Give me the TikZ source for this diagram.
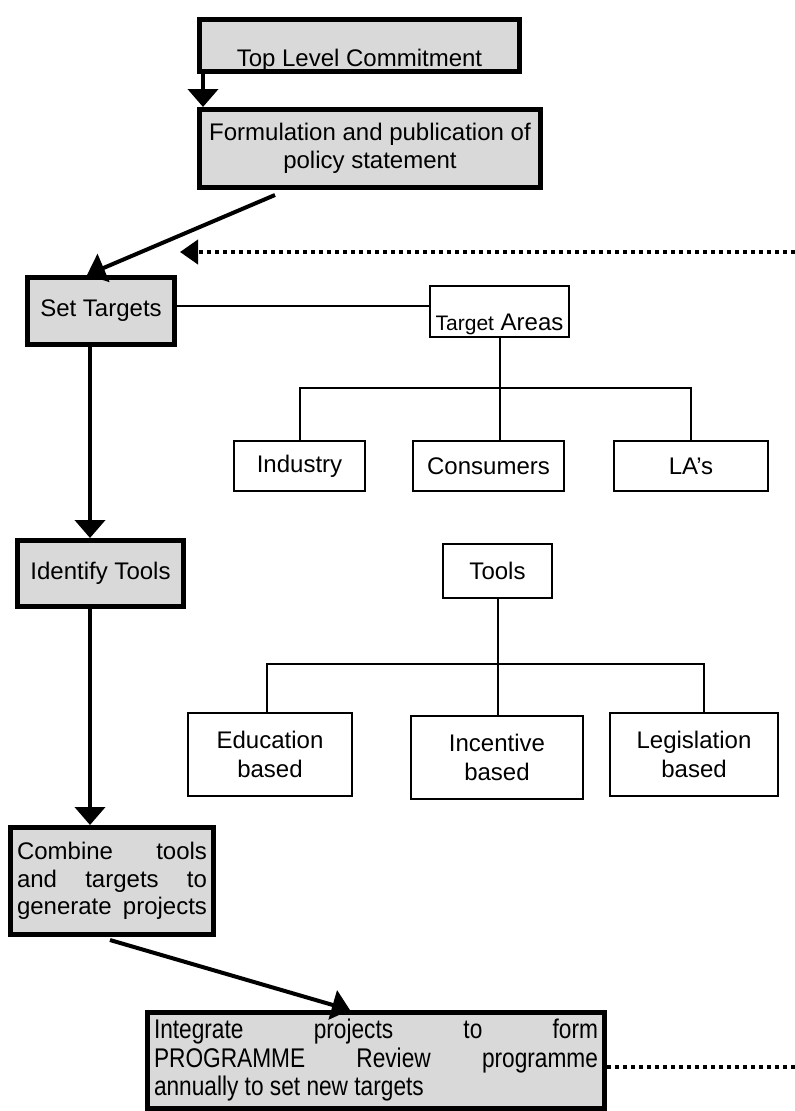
\documentclass[tikz,border=0pt]{standalone}
\usepackage{fontspec}
\setmainfont{Liberation Sans}
\newfontfamily\narrowfont[FakeStretch=0.84]{Liberation Sans}
\usetikzlibrary{arrows.meta}
\definecolor{boxgray}{HTML}{D9D9D9}
\begin{document}
\begin{tikzpicture}[x=1pt,y=-1pt,
  gbox/.style={draw=black, line width=5pt, fill=boxgray, inner sep=0pt, anchor=north west, align=center, font=\fontsize{24}{27.5}\selectfont},
  wbox/.style={draw=black, line width=2pt, fill=white, inner sep=0pt, anchor=north west, align=center, font=\fontsize{24}{28.5}\selectfont},
  arr/.style={line width=4pt, -{Triangle[length=18pt,width=30pt]}},
  tline/.style={line width=2pt},
  dots/.style={line width=4pt, dash pattern=on 4pt off 4pt}]
\useasboundingbox (0,0) rectangle (795,1111);
% main column
\node[gbox, minimum width=320pt, minimum height=51pt] (tl) at (197,17) {\parbox[c][47pt][b]{310pt}{\centering Top Level Commitment}};
\node[gbox, minimum width=341pt, minimum height=78pt] (fp) at (197,107) {Formulation and publication of\\policy statement};
\node[gbox, minimum width=147pt, minimum height=67pt] (st) at (25,275) {Set Targets};
\node[gbox, minimum width=166pt, minimum height=66pt] (it) at (15,538) {Identify Tools};
\node[gbox, minimum width=203pt, minimum height=107pt] (cb) at (8,825) {\parbox{190pt}{\makebox[\linewidth][s]{Combine tools}\par\makebox[\linewidth][s]{and targets to}\par\makebox[\linewidth][s]{generate projects}}};
\node[gbox, minimum width=457pt, minimum height=96pt, font=\narrowfont\fontsize{27}{28.5}\selectfont] (ig) at (145,1010) {\parbox{444pt}{\makebox[\linewidth][s]{Integrate projects to form}\par\makebox[\linewidth][s]{PROGRAMME Review programme}\par annually to set new targets}};
% target areas tree
\node[wbox, minimum width=139pt, minimum height=51pt] (ta) at (429,285) {\parbox[c][43pt][b]{135pt}{\centering{\fontsize{21}{24}\selectfont Target} Areas}};
\node[wbox, minimum width=131pt, minimum height=50pt] (ind) at (233,440) {Industry};
\node[wbox, minimum width=151pt, minimum height=50pt] (con) at (412,440) {Consumers};
\node[wbox, minimum width=154pt, minimum height=50pt] (las) at (613,440) {LA’s};
% tools tree
\node[wbox, minimum width=109pt, minimum height=54pt] (tools) at (442,543) {Tools};
\node[wbox, minimum width=164pt, minimum height=83pt] (ed) at (187,712) {Education\\based};
\node[wbox, minimum width=172pt, minimum height=83pt] (inc) at (410,715) {Incentive\\based};
\node[wbox, minimum width=168pt, minimum height=83pt] (leg) at (609,712) {Legislation\\based};
% helper coordinates
\coordinate (ax) at (90,0);
\coordinate (bus1) at (0,388);
\coordinate (bus2) at (0,664);
\coordinate (du) at (795,252);
\coordinate (dt) at (180,252);
\coordinate (dr) at (795,1067);
% arrows of the main column
\draw[arr] ([xshift=6pt]tl.south west) -- ([xshift=6pt]fp.north west);
\draw[arr] ([xshift=78pt,yshift=-5pt]fp.south west) -- ([xshift=62pt]st.north west);
\draw[arr] (st.south -| ax) -- (it.north -| ax);
\draw[arr] (it.south -| ax) -- (cb.north -| ax);
\draw[arr] ([xshift=-2pt,yshift=-3pt]cb.south) -- ([xshift=205pt]ig.north west);
% feedback dotted lines
\draw[dots, -{Triangle[length=18pt,width=24pt]}] (du) -- (dt);
\draw[dots] (dr -| ig.east) -- (dr);
% target areas tree lines
\draw[tline] (st.east |- 0,306) -- (ta.west |- 0,306);
\draw[tline] (ta.south) -- (ta.south |- con.north);
\draw[tline] (ind.north) -- (ind.north |- bus1) -| (las.north);
% tools tree lines
\draw[tline] (tools.south) -- (tools.south |- inc.north);
\draw[tline] ([xshift=-3pt]ed.north) -- ([xshift=-3pt]ed.north |- bus2) -| ([xshift=10pt]leg.north);
\end{tikzpicture}
\end{document}
